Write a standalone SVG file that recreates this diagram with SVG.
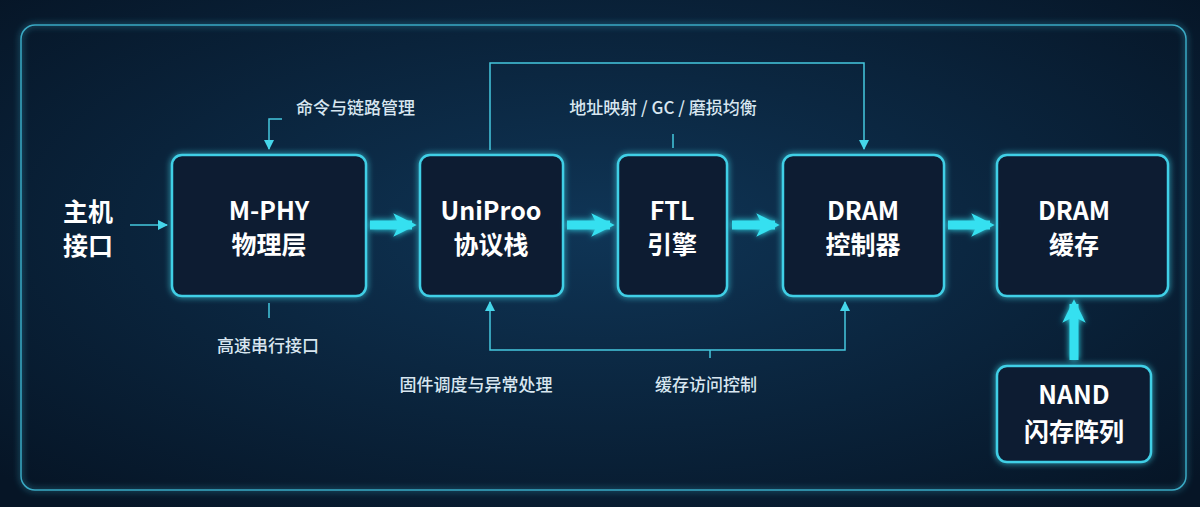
<svg xmlns="http://www.w3.org/2000/svg" width="1200" height="507" viewBox="0 0 1200 507">
<defs>
<radialGradient id="bg" cx="0.5" cy="0.45" r="0.7">
<stop offset="0" stop-color="#0f3556"/><stop offset="1" stop-color="#061526"/>
</radialGradient>
<filter id="glow" filterUnits="userSpaceOnUse" x="0" y="0" width="1200" height="507"><feGaussianBlur stdDeviation="3" result="b"/><feMerge><feMergeNode in="b"/><feMergeNode in="SourceGraphic"/></feMerge></filter>
<marker id="ah" viewBox="0 0 10 10" refX="9" refY="5" markerWidth="10" markerHeight="10" markerUnits="userSpaceOnUse" orient="auto"><path d="M0,0 L10,5 L0,10 z" fill="#45d6ea"/></marker>
<marker id="bh" viewBox="0 0 10 10" refX="8" refY="5" markerWidth="2.6" markerHeight="2.8" orient="auto"><path d="M0,0 L10,5 L0,10 L2.5,5 z" fill="#35e0f0"/></marker>
<style>
.box{fill:#0a1a31;stroke:#40cfe6;stroke-width:2.5;filter:url(#glow)}
.t{font-family:"Noto Sans CJK SC","Noto Sans",sans-serif;font-weight:700;font-size:25px;fill:#ffffff;text-anchor:middle}
.l{font-family:"Noto Sans CJK SC","Noto Sans",sans-serif;font-size:17px;font-weight:500;fill:#d8e6f0}
.thin{fill:none;stroke:#45c8de;stroke-width:1.5}
.thick{stroke:#35e0f0;stroke-width:9;fill:none;filter:url(#glow)}
</style>
</defs>
<rect width="1200" height="507" fill="url(#bg)"/>
<rect x="21" y="25" width="1165" height="465" rx="14" fill="none" stroke="#3aa9c4" stroke-width="1.5" filter="url(#glow)"/>
<g id="host"><text class="t" x="88" y="221" font-size="26">主机</text><text class="t" x="88" y="255">接口</text></g>
<g id="mphy"><rect class="box" x="172" y="155" width="194" height="141" rx="10"/><text class="t" x="269" y="220">M-PHY</text><text class="t" x="269" y="254">物理层</text></g>
<g id="unipro"><rect class="box" x="420" y="155" width="143" height="141" rx="10"/><text class="t" x="491" y="220">UniProo</text><text class="t" x="491" y="254">协议栈</text></g>
<g id="ftl"><rect class="box" x="618" y="155" width="109" height="141" rx="10"/><text class="t" x="672" y="220">FTL</text><text class="t" x="672" y="254">引擎</text></g>
<g id="dramctl"><rect class="box" x="783" y="155" width="161" height="141" rx="10"/><text class="t" x="863" y="220">DRAM</text><text class="t" x="863" y="254">控制器</text></g>
<g id="dramcache"><rect class="box" x="997" y="155" width="171" height="141" rx="10"/><text class="t" x="1074" y="220">DRAM</text><text class="t" x="1074" y="254">缓存</text></g>
<g id="nand"><rect class="box" x="997" y="366" width="154" height="96" rx="10"/><text class="t" x="1074" y="404">NAND</text><text class="t" x="1074" y="441">闪存阵列</text></g>
<g id="connectors">
<line class="thin" x1="130" y1="225" x2="167" y2="225" marker-end="url(#ah)"/>
<line class="thick" x1="370" y1="225" x2="412" y2="225" marker-end="url(#bh)"/>
<line class="thick" x1="567" y1="225" x2="610" y2="225" marker-end="url(#bh)"/>
<line class="thick" x1="732" y1="225" x2="775" y2="225" marker-end="url(#bh)"/>
<line class="thick" x1="948" y1="225" x2="990" y2="225" marker-end="url(#bh)"/>
<line class="thick" x1="1074" y1="360" x2="1074" y2="304" marker-end="url(#bh)"/>
<polyline class="thin" points="282,119 269,119 269,149" marker-end="url(#ah)"/>
<line class="thin" x1="269" y1="303" x2="269" y2="318"/>
<polyline class="thin" points="490,150 490,63 864,63 864,149" marker-end="url(#ah)"/>
<line class="thin" x1="673" y1="134" x2="673" y2="148"/>
<polyline class="thin" points="710,350 490,350 490,302" marker-end="url(#ah)"/>
<polyline class="thin" points="710,350 845,350 845,302" marker-end="url(#ah)"/>
<line class="thin" x1="710" y1="350" x2="710" y2="358"/>
</g>
<g id="labels">
<text class="l" x="296" y="114">命令与链路管理</text>
<text class="l" x="663" y="114" text-anchor="middle">地址映射 / GC / 磨损均衡</text>
<text class="l" x="268" y="352" text-anchor="middle">高速串行接口</text>
<text class="l" x="476" y="391" text-anchor="middle">固件调度与异常处理</text>
<text class="l" x="706" y="391" text-anchor="middle">缓存访问控制</text>
</g>
</svg>
